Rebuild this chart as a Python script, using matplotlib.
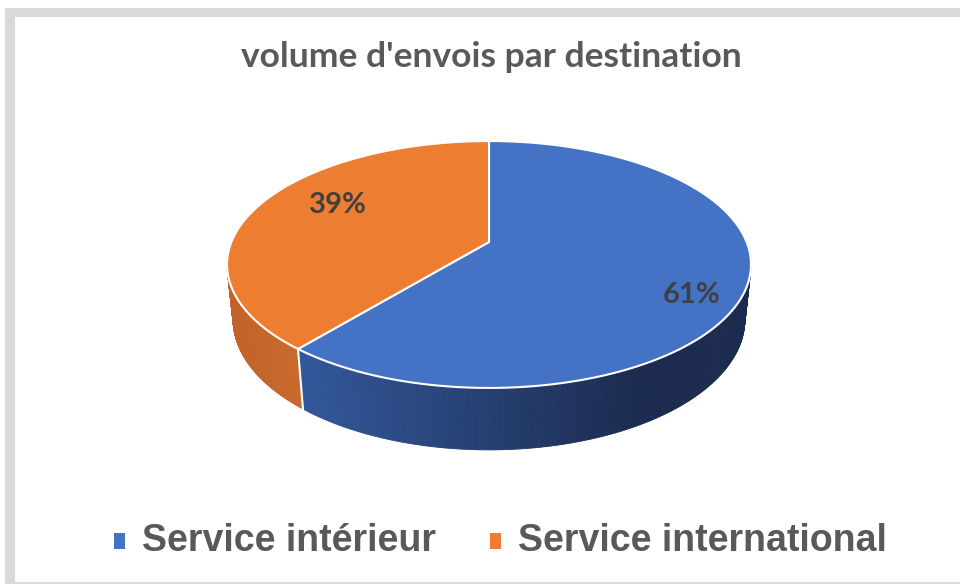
import numpy as np
import matplotlib.pyplot as plt
from matplotlib.patches import Polygon, Rectangle
from matplotlib.collections import PolyCollection
from matplotlib.colors import to_rgb

# data
categories = ["Service intérieur", "Service international"]
values = [61, 39]
labels = ["61%", "39%"]
colors = ["#4472C4", "#ED7D31"]
title = "volume d'envois par destination"

# side wall shading (left colour, right colour) per slice
side_left = ["#32579A", "#C1632A"]
side_right = ["#1B2B4F", "#C96B2D"]

# 3d pie projection (perspective, camera tilted ~28 deg)
cx, cy = 489, 242
k, D = 1253.0, 4.864
el = np.radians(27.6)
c, s = np.cos(el), np.sin(el)
h = 0.243


def proj(X, Y, Z):
    depth = D + Y * c - Z * s
    return cx + k * X / depth, cy - k * (Y * s + Z * c) / depth


def rim(t, Z=0.0, r=1.0):
    return proj(r * np.cos(t), r * np.sin(t), Z)


fig = plt.figure(figsize=(9.6, 5.85), dpi=100)
ax = fig.add_axes([0, 0, 1, 1])
ax.set_xlim(0, 960)
ax.set_ylim(585, 0)
ax.axis('off')

# chart frame
ax.add_patch(Rectangle((5, 8), 960, 9, color="#D9D9D9", lw=0))
ax.add_patch(Rectangle((5, 8), 10, 576, color="#D9D9D9", lw=0))
ax.add_patch(Rectangle((5, 582), 960, 2, color="#D9D9D9", lw=0))

# slice angles: start at 12 o'clock, clockwise
frac = np.cumsum([0] + values) / sum(values)
angles = np.radians(90 - 360 * frac)

# side walls (front half only)
for i in range(len(values)):
    a0, a1 = angles[i], angles[i + 1]
    lo, hi = max(a1, -np.pi), min(a0, 0.0)
    if lo >= hi:
        lo, hi = max(a1, -np.pi - 0.3), min(a0, -np.pi)
    if lo >= hi:
        continue
    t = np.linspace(lo, hi, 200)
    xt, yt = rim(t)
    xb, yb = rim(t, -h)
    quads, cols = [], []
    cl, cr = np.array(to_rgb(side_left[i])), np.array(to_rgb(side_right[i]))
    xs0, xs1 = (300, 640) if i == 0 else (228, 300)
    for j in range(len(t) - 1):
        quads.append([(xt[j], yt[j]), (xt[j + 1], yt[j + 1]),
                      (xb[j + 1], yb[j + 1]), (xb[j], yb[j])])
        f = np.clip(((xt[j] + xt[j + 1]) / 2 - xs0) / (xs1 - xs0), 0, 1)
        cols.append(cl + (cr - cl) * f)
    ax.add_collection(PolyCollection(quads, facecolors=cols, edgecolors=cols,
                                     linewidths=0.6))

# divider line on the side wall
for a in angles[1:-1]:
    if -np.pi < a < 0:
        x0, y0 = rim(a)
        x1, y1 = rim(a, -h)
        ax.plot([x0, x1], [y0, y1], color="white", lw=1.5)

# top faces
for i in range(len(values)):
    t = np.linspace(angles[i], angles[i + 1], 300)
    xt, yt = rim(t)
    pts = np.column_stack([np.r_[cx, xt], np.r_[cy, yt]])
    ax.add_patch(Polygon(pts, closed=True, facecolor=colors[i],
                         edgecolor="white", lw=1.5, joinstyle="round"))

# data labels
label_xy = [(692, 295), (338, 205)]
for (x, y), lab in zip(label_xy, labels):
    ax.text(x, y, lab, ha="center", va="center", fontsize=21,
            fontweight="bold", color="#404040", family="Lato")

# title
ax.text(491, 57, title, ha="center", va="center", fontsize=25.5,
        fontweight="bold", color="#595959", family="Lato")

# legend
leg_x = [114, 490]
for x, name, col in zip(leg_x, categories, colors):
    ax.add_patch(Rectangle((x, 533), 11, 16, color=col, lw=0))
    ax.text(x + 28, 541, name, ha="left", va="center", fontsize=27,
            fontweight="bold", color="#595959", family="Liberation Sans")

fig.savefig("out.png", dpi=100)
